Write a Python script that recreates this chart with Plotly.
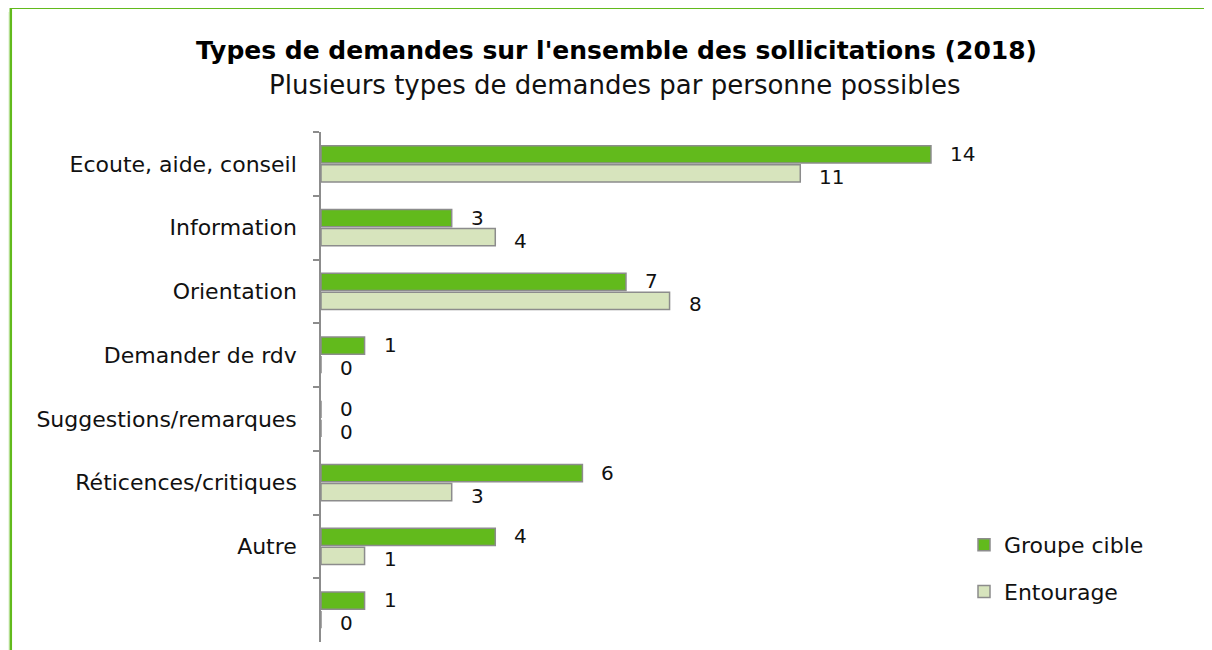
import plotly.graph_objects as go

categories = ["Ecoute, aide, conseil", "Information", "Orientation", "Demander de rdv",
              "Suggestions/remarques", "Réticences/critiques", "Autre", " "]
groupe_cible = [14, 3, 7, 1, 0, 6, 4, 1]
entourage = [11, 4, 8, 0, 0, 3, 1, 0]

FONT = "DejaVu Sans"
GREEN = "#62BA1C"
LIGHT = "#D7E4BD"
EDGE = "#8C8C8C"
TXT = "#111111"

W, H = 1212, 650
OFF = 8  # page body margin
L, R, T, B = 313, 120, 124, 16
plot_w = W - L - R
plot_h = H - T - B
px_per_unit = 43.57


def px_x(p):
    # window pixel -> paper x
    return (p - OFF - L) / plot_w


def px_y(p):
    # window pixel -> paper y
    return (H - B - (p - OFF)) / plot_h


fig = go.Figure()
fig.add_trace(go.Bar(y=categories, x=groupe_cible, name="Groupe cible", orientation="h",
                     marker=dict(color=GREEN, line=dict(color=EDGE, width=1.5)),
                     legendgroup="g1"))
fig.add_trace(go.Bar(y=categories, x=entourage, name="Entourage", orientation="h",
                     marker=dict(color=LIGHT, line=dict(color=EDGE, width=1.5)),
                     legendgroup="g2"))

# value labels to the right of the bar ends
annotations = []
for cat, v in zip(categories, groupe_cible):
    annotations.append(dict(x=v, y=cat, xref="x", yref="y", text=str(v), showarrow=False,
                            xanchor="left", xshift=17, yshift=10,
                            font=dict(family=FONT, size=20, color=TXT)))
for cat, v in zip(categories, entourage):
    annotations.append(dict(x=v, y=cat, xref="x", yref="y", text=str(v), showarrow=False,
                            xanchor="left", xshift=17, yshift=-13,
                            font=dict(family=FONT, size=20, color=TXT)))

# title and subtitle
annotations.append(dict(x=px_x(616), y=px_y(51), xref="paper", yref="paper",
                        text="<b>Types de demandes sur l'ensemble des sollicitations (2018)</b>",
                        showarrow=False, xanchor="center", yanchor="middle",
                        font=dict(family=FONT, size=25, color="#000000")))
annotations.append(dict(x=px_x(615), y=px_y(85), xref="paper", yref="paper",
                        text="Plusieurs types de demandes par personne possibles",
                        showarrow=False, xanchor="center", yanchor="middle",
                        font=dict(family=FONT, size=26, color=TXT)))

# green frame around the chart (cut off at right and bottom), with a soft shadow
shapes = [
    dict(type="line", xref="paper", yref="paper", x0=px_x(3), x1=px_x(3),
         y0=px_y(14), y1=px_y(700), line=dict(color="rgba(98,186,28,0.06)", width=6)),
    dict(type="line", xref="paper", yref="paper", x0=px_x(7), x1=px_x(7),
         y0=px_y(12), y1=px_y(700), line=dict(color="rgba(98,186,28,0.12)", width=5)),
    dict(type="line", xref="paper", yref="paper", x0=px_x(10.5), x1=px_x(1240),
         y0=px_y(7.8), y1=px_y(7.8), line=dict(color=GREEN, width=2.5)),
    dict(type="line", xref="paper", yref="paper", x0=px_x(10.8), x1=px_x(10.8),
         y0=px_y(7.8), y1=px_y(700), line=dict(color=GREEN, width=2.5)),
]

fig.update_layout(
    width=W, height=H,
    margin=dict(l=L, r=R, t=T, b=B),
    paper_bgcolor="white", plot_bgcolor="white",
    barmode="group", bargap=0.404, bargroupgap=0.08,
    font=dict(family=FONT, size=22, color=TXT),
    xaxis=dict(range=[0, plot_w / px_per_unit], visible=False, fixedrange=True),
    yaxis=dict(autorange="reversed", categoryorder="array", categoryarray=categories,
               showline=True, linecolor=EDGE, linewidth=1.5,
               ticks="outside", tickson="boundaries", ticklen=6, tickcolor=EDGE, tickwidth=1.5,
               ticklabelstandoff=18, showgrid=False, zeroline=False,
               tickfont=dict(family=FONT, size=22, color=TXT)),
    legend=dict(x=px_x(964), y=px_y(524), xanchor="left", yanchor="top",
                font=dict(family=FONT, size=22, color=TXT),
                tracegroupgap=15, itemwidth=30, bgcolor="rgba(0,0,0,0)"),
    showlegend=True,
    annotations=annotations,
    shapes=shapes,
)

fig.write_html("out.html")
